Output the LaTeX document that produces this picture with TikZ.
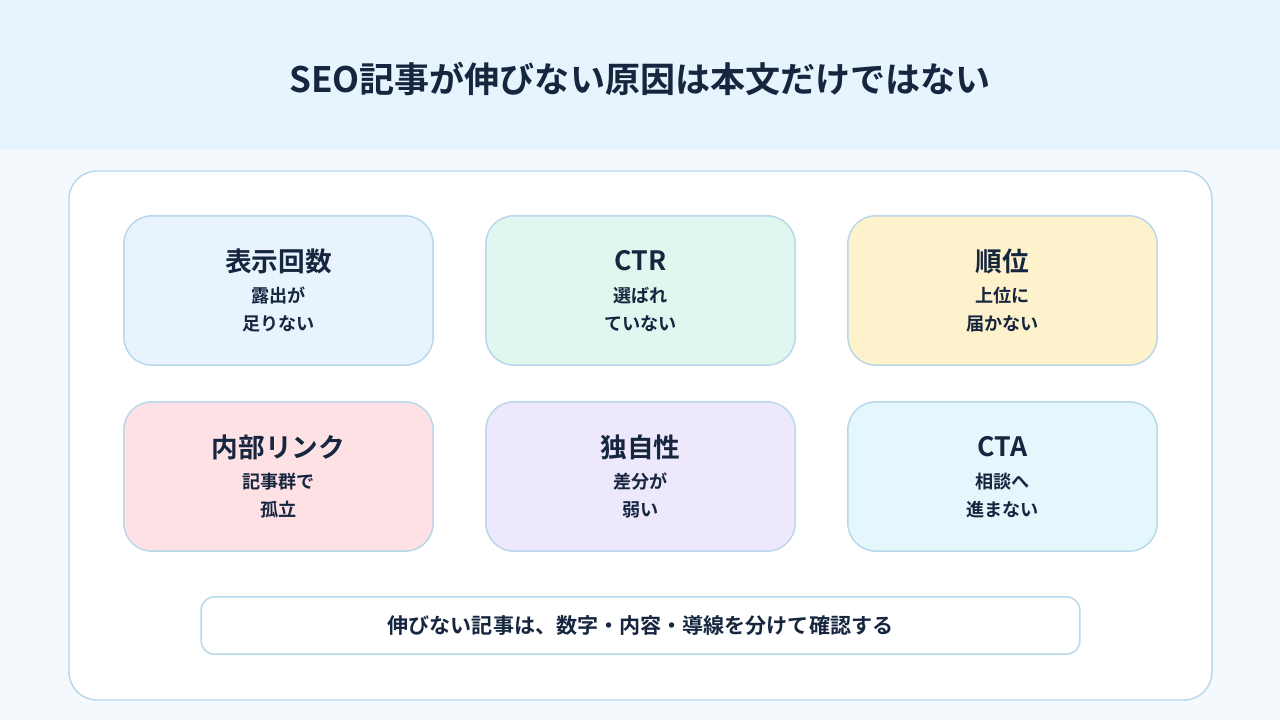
\documentclass[tikz,border=0pt]{standalone}
\usepackage{fontspec}
\setmainfont{Noto Sans CJK JP}[BoldFont={Noto Sans CJK JP Bold}]
\usepackage{tikz}
\usetikzlibrary{positioning,calc}
\definecolor{seoink}{HTML}{16263F}
\definecolor{seoline}{HTML}{B9D7EA}
\definecolor{seohead}{HTML}{E7F4FD}
\definecolor{seoback}{HTML}{F4F9FD}
\definecolor{cardA}{HTML}{E8F3FD}
\definecolor{cardB}{HTML}{E0F7EF}
\definecolor{cardC}{HTML}{FEF2CC}
\definecolor{cardD}{HTML}{FDE1E5}
\definecolor{cardE}{HTML}{EEE8FC}
\definecolor{cardF}{HTML}{E4F7FD}

\begin{document}
\begin{tikzpicture}[
    x=0.75pt,y=-0.75pt,
    card/.style  = {draw=seoline,line width=1.1pt,rounded corners=21pt,
                    minimum width=232pt,minimum height=112pt,inner sep=0pt},
    ctitle/.style= {font=\bfseries\fontsize{20}{24}\selectfont,text=seoink},
    csub/.style  = {font=\bfseries\fontsize{13.6}{21}\selectfont,text=seoink,align=center},
  ]

  % fond et bandeau
  \fill[seoback] (0,0) rectangle (1280,720);
  \fill[seohead] (0,0) rectangle (1280,150);
  \useasboundingbox (0,0) rectangle (1280,720);
  \node[font=\bfseries\fontsize{26.3}{30}\selectfont,text=seoink] (title) at (640,79)
       {SEO記事が伸びない原因は本文だけではない};

  % panneau
  \draw[seoline,fill=white,line width=1.1pt,rounded corners=21pt]
       (69,171) rectangle (1212,700);

  % cartes
  \node[card,fill=cardA] (imp) at (278.5,290.5) {};
  \node[card,fill=cardB] (ctr) at (640.5,290.5) {};
  \node[card,fill=cardC] (rank) at (1002.5,290.5) {};
  \node[card,fill=cardD] (link) at (278.5,476.5) {};
  \node[card,fill=cardE] (orig) at (640.5,476.5) {};
  \node[card,fill=cardF] (cta) at (1002.5,476.5) {};

  \foreach \c/\t/\s in {imp/表示回数/{露出が\\足りない},
                        ctr/CTR/{選ばれ\\ていない},
                        rank/順位/{上位に\\届かない},
                        link/内部リンク/{記事群で\\孤立},
                        orig/独自性/{差分が\\弱い},
                        cta/CTA/{相談へ\\進まない}}{
    \node[ctitle] (\c-t) at ($(\c.north)+(0,46)$) {\t};
    \node[csub,anchor=north] (\c-s) at ($(\c.north)+(0,67)$) {\s};
  }

  % bas
  \node[draw=seoline,fill=white,line width=1.1pt,rounded corners=10pt,
        minimum width=659pt,minimum height=43pt,
        font=\bfseries\fontsize{15.8}{18}\selectfont,text=seoink] (note) at (640.5,625.5)
       {伸びない記事は、数字・内容・導線を分けて確認する};

\end{tikzpicture}
\end{document}
